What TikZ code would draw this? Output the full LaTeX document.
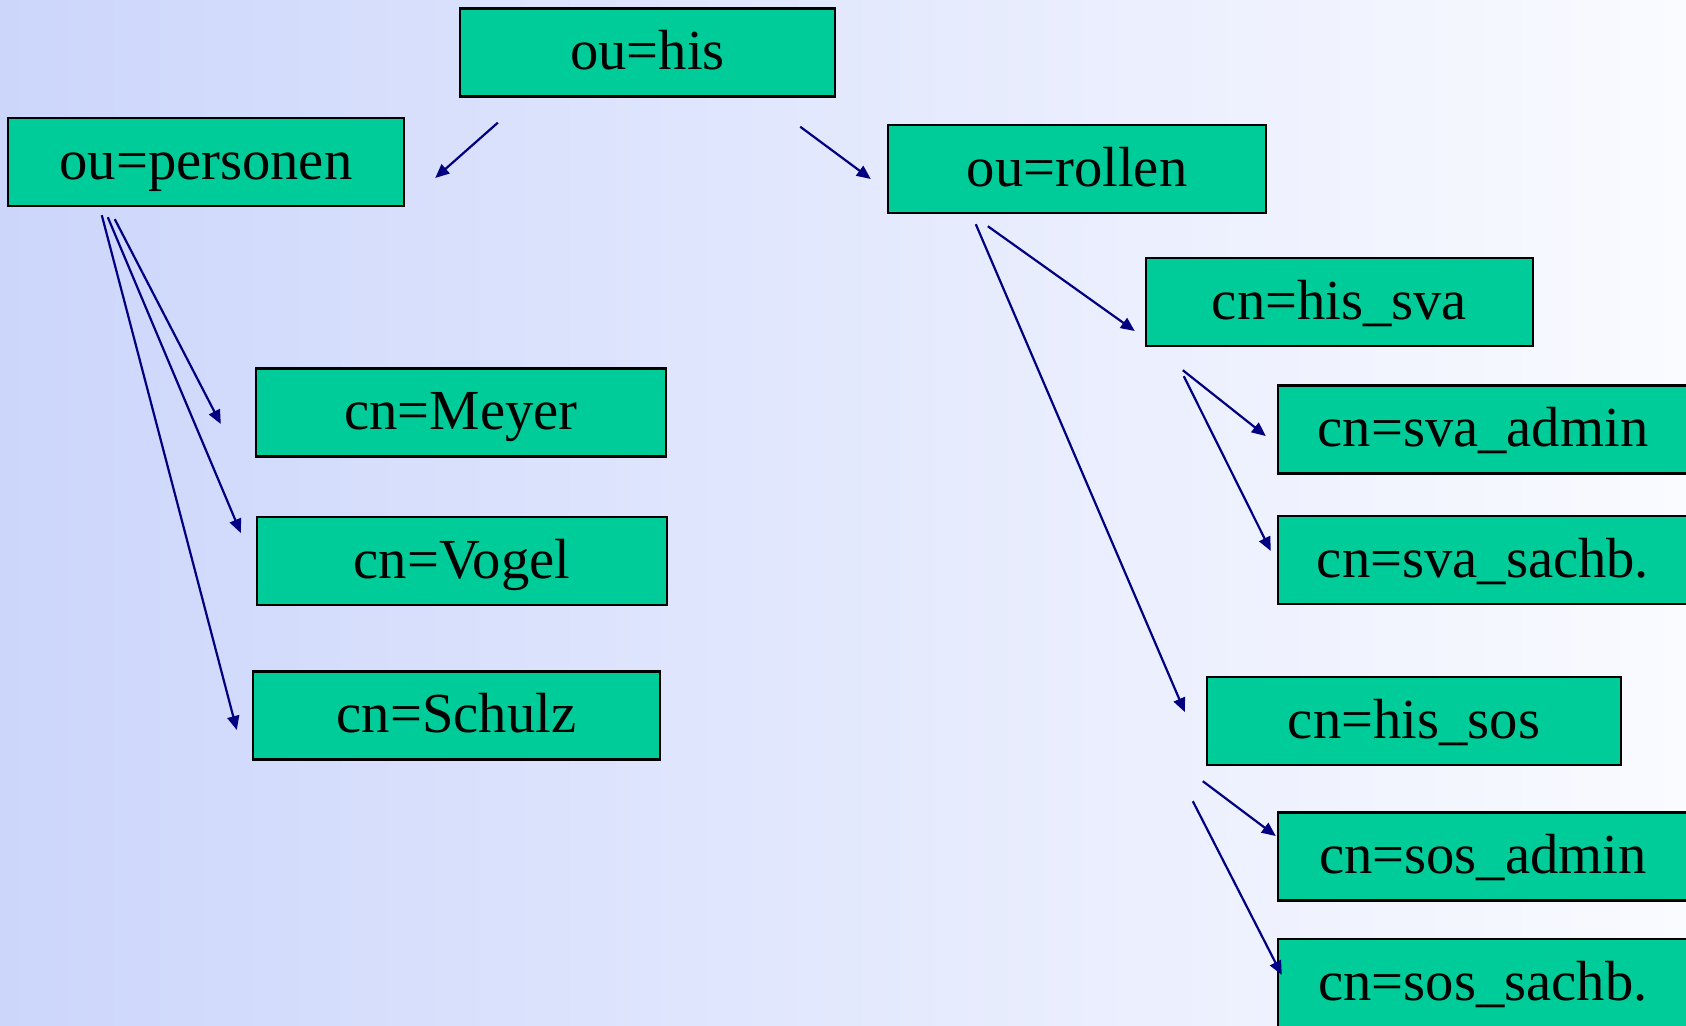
\documentclass[tikz,border=0pt]{standalone}
\usepackage{fontspec}
\setmainfont{Liberation Serif}
\usetikzlibrary{arrows.meta}
\definecolor{bgleft}{RGB}{204,214,251}
\definecolor{bgright}{RGB}{250,251,255}
\definecolor{boxfill}{RGB}{0,204,153}
\definecolor{linkcol}{RGB}{0,0,128}
\tikzset{
  entry/.style={draw=black, line width=1.2pt, fill=boxfill, inner sep=0pt,
    minimum height=44pt, text height=22pt, text depth=5pt,
    font=\fontsize{28.3}{34}\selectfont},
  link/.style={draw=linkcol, line width=1.1pt,
    -{Triangle[length=7pt,width=6pt]}}
}
\begin{document}
\begin{tikzpicture}[x=0.5pt, y=-0.5pt]
  \useasboundingbox (0,0) rectangle (1686,1025);
  \clip (0,0) rectangle (1686,1025);
  \shade[left color=bgleft, right color=bgright] (0,0) rectangle (1686,1025);

  % directory tree entries
  \node[entry, minimum width=187.5pt] (his)      at (647.5,52.5) {ou=his};
  \node[entry, minimum width=198pt]   (personen) at (206,162)    {ou=personen};
  \node[entry, minimum width=189pt]   (rollen)   at (1077,169)   {ou=rollen};
  \node[entry, minimum width=193.5pt] (hissva)   at (1339.5,302) {cn=his\_sva};
  \node[entry, minimum width=205pt]   (svaadmin) at (1483,429.5) {cn=sva\_admin};
  \node[entry, minimum width=205pt]   (svasachb) at (1483,560)   {cn=sva\_sachb.};
  \node[entry, minimum width=205pt]   (meyer)    at (461,412.5)  {cn=Meyer};
  \node[entry, minimum width=205pt]   (vogel)    at (462,561)    {cn=Vogel};
  \node[entry, minimum width=203.5pt] (schulz)   at (456.5,715.5){cn=Schulz};
  \node[entry, minimum width=207pt]   (hissos)   at (1414,721)   {cn=his\_sos};
  \node[entry, minimum width=205pt]   (sosadmin) at (1483,856.5) {cn=sos\_admin};
  \node[entry, minimum width=205pt]   (sossachb) at (1483,983)   {cn=sos\_sachb.};

  % free ends of the connectors, placed next to their entries
  \coordinate (a1s) at ([shift={(39,25)}]his.south west);
  \coordinate (a1e) at ([shift={(30,16)}]personen.east);
  \coordinate (a2s) at ([shift={(-36,29)}]his.south east);
  \coordinate (a2e) at ([shift={(-16,10)}]rollen.west);
  \coordinate (a3s) at ([shift={(108,12)}]personen.south west);
  \coordinate (a3e) at ([shift={(-34,11.5)}]meyer.west);
  \coordinate (a4s) at ([shift={(101,10)}]personen.south west);
  \coordinate (a4e) at ([shift={(-15,-28)}]vogel.west);
  \coordinate (a5s) at ([shift={(95,8)}]personen.south west);
  \coordinate (a5e) at ([shift={(-15,14.5)}]schulz.west);
  \coordinate (a6s) at ([shift={(101,12)}]rollen.south west);
  \coordinate (a6e) at ([shift={(-10,29)}]hissva.west);
  \coordinate (a7s) at ([shift={(89,10)}]rollen.south west);
  \coordinate (a7e) at ([shift={(-21,-9)}]hissos.west);
  \coordinate (a8s) at ([shift={(38,23)}]hissva.south west);
  \coordinate (a8e) at ([shift={(-11,6.5)}]svaadmin.west);
  \coordinate (a9s) at ([shift={(39,29)}]hissva.south west);
  \coordinate (a9e) at ([shift={(-6,-9)}]svasachb.west);
  \coordinate (b1s) at ([shift={(-3,15)}]hissos.south west);
  \coordinate (b1e) at ([shift={(-1,-20.5)}]sosadmin.west);
  \coordinate (b2s) at ([shift={(-13,35)}]hissos.south west);
  \coordinate (b2e) at ([shift={(5,-8)}]sossachb.west);

  % connectors
  \draw[link] (a1s) -- (a1e);
  \draw[link] (a2s) -- (a2e);
  \draw[link] (a3s) -- (a3e);
  \draw[link] (a4s) -- (a4e);
  \draw[link] (a5s) -- (a5e);
  \draw[link] (a6s) -- (a6e);
  \draw[link] (a7s) -- (a7e);
  \draw[link] (a8s) -- (a8e);
  \draw[link] (a9s) -- (a9e);
  \draw[link] (b1s) -- (b1e);
  \draw[link] (b2s) -- (b2e);
\end{tikzpicture}
\end{document}
